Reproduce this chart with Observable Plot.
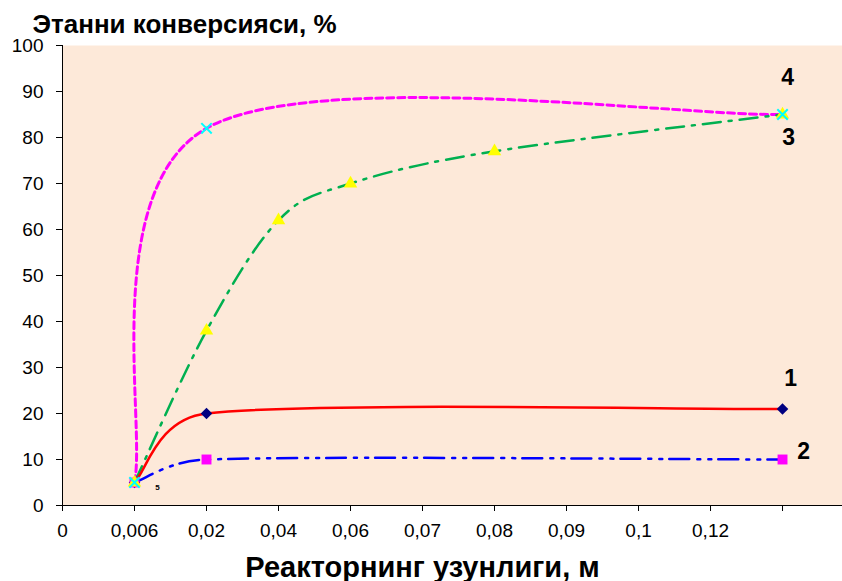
<!DOCTYPE html>
<html><head><meta charset="utf-8">
<script src="https://cdn.jsdelivr.net/npm/d3@7"></script>
<script src="https://cdn.jsdelivr.net/npm/@observablehq/plot@0.6"></script>
<style>body{margin:0;background:#fff}</style>
</head><body><div id="chart"></div>
<script>
// X categories (equally spaced), the last position carries no label
const categories = ["0","0,006","0,02","0,04","0,06","0,07","0,08","0,09","0,1","0,12",""];
const yTicks = [0,10,20,30,40,50,60,70,80,90,100];
// series: x = category index, y = conversion, %
const s1x = [1,2,10], s1y = [5,20,21];
const s2x = [1,2,10], s2y = [5,10,10];
const s3x = [1,2,3,4,6,10], s3y = [5,38,62,70,77,85];
const s4x = [1,2,10], s4y = [5,82,85];
const yTitle = "Этанни конверсияси, %";
const xTitle = "Реакторнинг узунлиги, м";

const rows = (xs, ys, s) => xs.map((x, i) => ({x, y: ys[i], s}));
const d1 = rows(s1x, s1y, "1"), d2 = rows(s2x, s2y, "2"), d3s = rows(s3x, s3y, "3"), d4 = rows(s4x, s4y, "4");
const last = a => [a[a.length - 1]];

// Spreadsheet-style smoothed line (Bezier, 1/6 tangents, arms limited to half a segment)
function smoothCurve(context) {
  let pts = [];
  const dist = (a, b) => Math.hypot(b[0] - a[0], b[1] - a[1]);
  return {
    areaStart() {}, areaEnd() {},
    lineStart() { pts = []; },
    point(x, y) { pts.push([+x, +y]); },
    lineEnd() {
      const n = pts.length;
      if (!n) return;
      context.moveTo(pts[0][0], pts[0][1]);
      for (let i = 0; i < n - 1; i++) {
        const p0 = pts[Math.max(i - 1, 0)], p1 = pts[i], p2 = pts[i + 1], p3 = pts[Math.min(i + 2, n - 1)];
        const d12 = dist(p1, p2), d02 = dist(p0, p2), d13 = dist(p1, p3);
        let f1 = 1 / 6, f2 = 1 / 6;
        if (d02 > 0 && d02 / 6 >= d12 / 2) f1 = d12 / (2 * d02);
        if (d13 > 0 && d13 / 6 >= d12 / 2) f2 = d12 / (2 * d13);
        context.bezierCurveTo(
          p1[0] + f1 * (p2[0] - p0[0]), p1[1] + f1 * (p2[1] - p0[1]),
          p2[0] - f2 * (p3[0] - p1[0]), p2[1] - f2 * (p3[1] - p1[1]),
          p2[0], p2[1]);
      }
    }
  };
}

const chart = Plot.plot({
  width: 842, height: 581,
  marginLeft: 62, marginRight: 0, marginTop: 45, marginBottom: 76,
  style: {fontFamily: "'Liberation Sans', Arial, sans-serif", background: "#fff", color: "#000"},
  x: {domain: [0, 10.833], axis: null},
  y: {domain: [0, 100], axis: null},
  marks: [
    Plot.frame({fill: "#FDE9D9", stroke: null}),
    Plot.axisY({ticks: yTicks, tickSize: 6, tickPadding: 13, fontSize: 19, label: null}),
    Plot.axisX({ticks: d3.range(categories.length), tickFormat: i => categories[i], tickSize: 6, tickPadding: 12, fontSize: 19, label: null}),
    Plot.ruleY([0], {stroke: "#000", strokeWidth: 1}),
    Plot.ruleX([0], {stroke: "#000", strokeWidth: 1}),
    Plot.line(d4, {x: "x", y: "y", curve: smoothCurve, stroke: "#FF00FF", strokeWidth: 3, strokeDasharray: "7 4"}),
    Plot.line(d3s, {x: "x", y: "y", curve: smoothCurve, stroke: "#00B050", strokeWidth: 2.5, strokeDasharray: "18 8 3 8"}),
    Plot.line(d1, {x: "x", y: "y", curve: smoothCurve, stroke: "#FF0000", strokeWidth: 2.5}),
    Plot.line(d2, {x: "x", y: "y", curve: smoothCurve, stroke: "#0000FF", strokeWidth: 2.5, strokeDasharray: "20 8 3 8 3 7"}),
    Plot.dot(d1, {x: "x", y: "y", symbol: "diamond2", r: 5.2, fill: "#000080", stroke: null}),
    Plot.dot(d2, {x: "x", y: "y", symbol: "square", r: 5.6, fill: "#FF00FF", stroke: null}),
    Plot.dot(d3s, {x: "x", y: "y", symbol: "triangle", r: 5, fill: "#FFFF00", stroke: null}),
    Plot.dot(d4, {x: "x", y: "y", symbol: "times", r: 4.8, stroke: "#00FFFF", strokeWidth: 2}),
    Plot.text(last(d1), {x: "x", y: "y", text: "s", dx: 8, dy: -30, fontSize: 23, fontWeight: "bold"}),
    Plot.text(last(d2), {x: "x", y: "y", text: "s", dx: 21, dy: -8, fontSize: 23, fontWeight: "bold"}),
    Plot.text(last(d3s), {x: "x", y: "y", text: "s", dx: 6, dy: 23, fontSize: 23, fontWeight: "bold"}),
    Plot.text(last(d4), {x: "x", y: "y", text: "s", dx: 5, dy: -37, fontSize: 23, fontWeight: "bold"}),
    Plot.text([d2[0]], {x: "x", y: "y", text: d => String(d.y), dx: 23, dy: 5, fontSize: 8, fontWeight: "bold"}),
    Plot.text([yTitle], {frameAnchor: "top-left", dx: -30, dy: -13, textAnchor: "start", lineAnchor: "bottom", fontSize: 26, fontWeight: "bold"}),
    Plot.text([xTitle], {frameAnchor: "bottom", dx: -30, dy: 71, lineAnchor: "bottom", fontSize: 29, fontWeight: "bold"})
  ]
});
document.getElementById("chart").appendChild(chart);
</script>
</body></html>
